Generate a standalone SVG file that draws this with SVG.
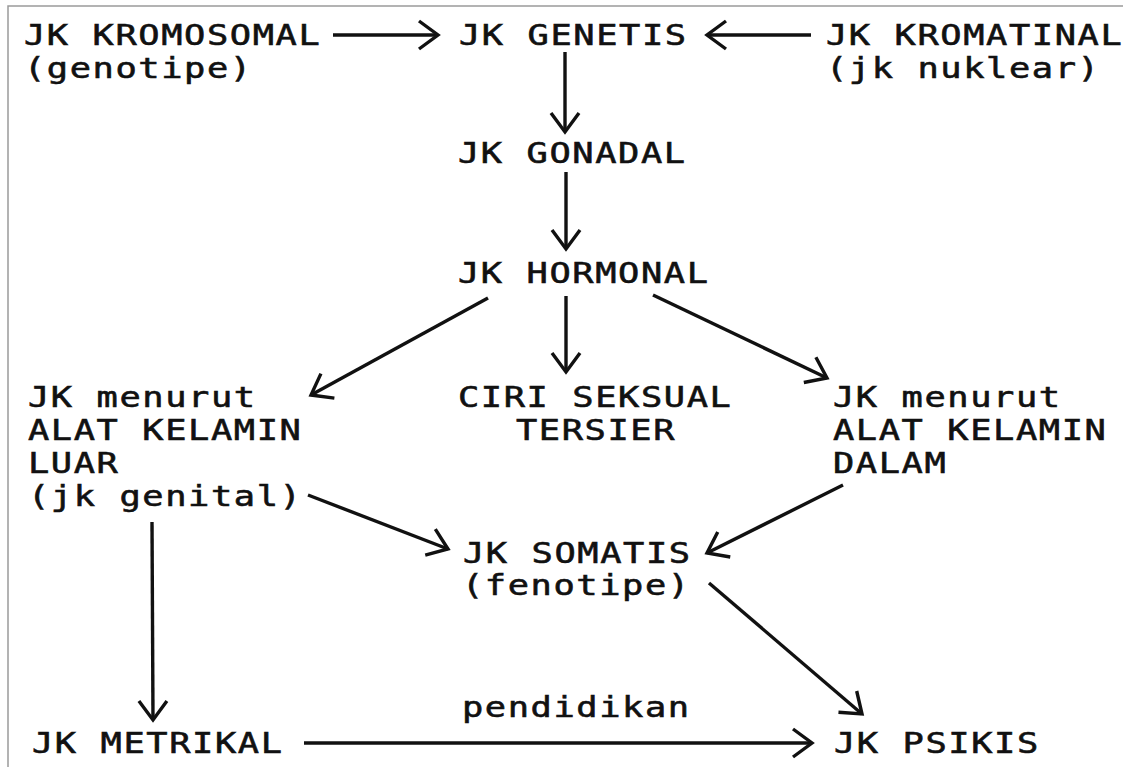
<svg xmlns="http://www.w3.org/2000/svg" width="1123" height="767" viewBox="0 0 1123 767">
  <style>
    .t { font-family: "DejaVu Sans Mono", "Liberation Mono", monospace; font-size: 29px; letter-spacing: 1.3px; fill: #111; stroke: #111; stroke-width: 0.6px; }
    .c { fill: none; stroke: #111; stroke-width: 3.4; marker-end: url(#ah); }
    .frame { fill: none; stroke: #9a9a9a; stroke-width: 1.5; }
  </style>
  <defs>
    <marker id="ah" viewBox="-24 -18 28 36" refX="0" refY="0" markerWidth="28" markerHeight="36" markerUnits="userSpaceOnUse" orient="auto" overflow="visible">
      <path d="M-19,-14 L0,0 L-19,14" fill="none" stroke="#111" stroke-width="3.4" stroke-linejoin="miter"/>
    </marker>
  </defs>
  <rect width="1123" height="767" fill="#fff"/>
  <path class="frame" d="M8,767 L8,6 L1123,6"/>

  <g id="connectors">
    <line class="c" x1="333" y1="35" x2="438" y2="35"/>
    <line class="c" x1="811" y1="35" x2="707" y2="35"/>
    <line class="c" x1="565" y1="52" x2="565" y2="132"/>
    <line class="c" x1="566" y1="172" x2="566" y2="249"/>
    <line class="c" x1="566" y1="296" x2="566" y2="372"/>
    <line class="c" x1="488" y1="298" x2="311" y2="395"/>
    <line class="c" x1="653" y1="295" x2="827" y2="378"/>
    <line class="c" x1="308" y1="495" x2="448" y2="549"/>
    <line class="c" x1="843" y1="485" x2="707" y2="553"/>
    <line class="c" x1="152" y1="522" x2="153" y2="720"/>
    <line class="c" x1="709" y1="583" x2="862" y2="714"/>
    <line class="c" x1="304" y1="743" x2="812" y2="743"/>
  </g>

  <g id="kromosomal" transform="scale(1.22,1)">
    <text class="t" x="19.67" y="45">JK KROMOSOMAL</text>
    <text class="t" x="19.67" y="78">(genotipe)</text>
  </g>
  <g id="genetis" transform="scale(1.22,1)">
    <text class="t" x="376.23" y="45">JK GENETIS</text>
  </g>
  <g id="kromatinal" transform="scale(1.22,1)">
    <text class="t" x="677.05" y="45">JK KROMATINAL</text>
    <text class="t" x="677.05" y="78">(jk nuklear)</text>
  </g>
  <g id="gonadal" transform="scale(1.22,1)">
    <text class="t" x="375.41" y="163">JK GONADAL</text>
  </g>
  <g id="hormonal" transform="scale(1.22,1)">
    <text class="t" x="375.41" y="283">JK HORMONAL</text>
  </g>
  <g id="kelamin-luar" transform="scale(1.22,1)">
    <text class="t" x="22.95" y="407">JK menurut</text>
    <text class="t" x="22.95" y="440">ALAT KELAMIN</text>
    <text class="t" x="22.95" y="473">LUAR</text>
    <text class="t" x="22.95" y="506">(jk genital)</text>
  </g>
  <g id="tersier" transform="scale(1.22,1)">
    <text class="t" x="375.41" y="407">CIRI SEKSUAL</text>
    <text class="t" x="422.95" y="440">TERSIER</text>
  </g>
  <g id="kelamin-dalam" transform="scale(1.22,1)">
    <text class="t" x="682.79" y="407">JK menurut</text>
    <text class="t" x="682.79" y="440">ALAT KELAMIN</text>
    <text class="t" x="682.79" y="473">DALAM</text>
  </g>
  <g id="somatis" transform="scale(1.22,1)">
    <text class="t" x="379.51" y="563">JK SOMATIS</text>
    <text class="t" x="378.69" y="595">(fenotipe)</text>
  </g>
  <g id="label-pendidikan" transform="scale(1.22,1)">
    <text class="t" x="378.69" y="717">pendidikan</text>
  </g>
  <g id="metrikal" transform="scale(1.22,1)">
    <text class="t" x="26.23" y="753">JK METRIKAL</text>
  </g>
  <g id="psikis" transform="scale(1.22,1)">
    <text class="t" x="683.61" y="753">JK PSIKIS</text>
  </g>
</svg>
